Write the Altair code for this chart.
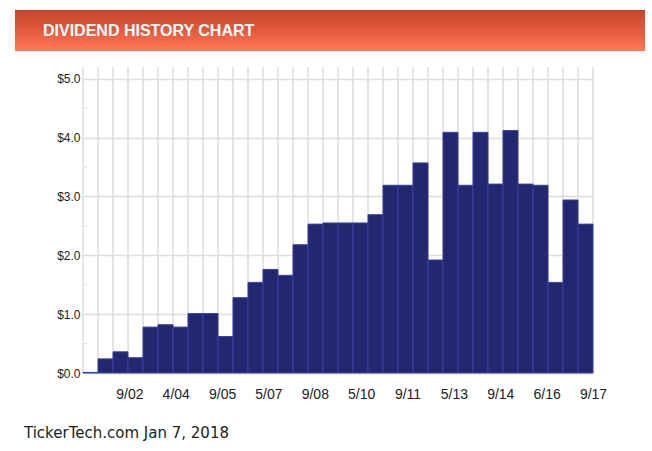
import altair as alt
import pandas as pd

# ---- data ----
dividends = [0.01, 0.24, 0.36, 0.26, 0.78, 0.82, 0.78, 1.01, 1.01, 0.62,
             1.28, 1.54, 1.76, 1.66, 2.18, 2.53, 2.55, 2.55, 2.55, 2.69,
             3.19, 3.19, 3.57, 1.92, 4.09, 3.19, 4.09, 3.21, 4.12, 3.21,
             3.19, 1.54, 2.94, 2.53]
x_labels = ["9/02", "4/04", "9/05", "5/07", "9/08", "5/10", "9/11",
            "5/13", "9/14", "6/16", "9/17"]
y_ticks = [0, 1, 2, 3, 4, 5]
y_minor = [0.5, 1.5, 2.5, 3.5, 4.5]
title_text = "DIVIDEND HISTORY CHART"
footer_text = "TickerTech.com  Jan 7, 2018"

n = len(dividends)
k = len(x_labels)
tick_pos = [n * (j + 1) / k for j in range(k)]
labels_js = "[" + ",".join("'" + s + "'" for s in x_labels) + "]"

bars_df = pd.DataFrame({"i": list(range(n)), "i2": list(range(1, n + 1)), "v": dividends})
grid_df = pd.DataFrame({"i": list(range(n + 1))})
minor_df = pd.DataFrame({"v": y_minor})
deco_df = pd.DataFrame({"t": [title_text]})
foot_df = pd.DataFrame({"t": [footer_text]})

W, H = 510, 306
YMAX = 5.2

x_scale = alt.Scale(domain=[0, n], nice=False, zero=False)
y_scale = alt.Scale(domain=[0, YMAX], nice=False)

x_axis = alt.Axis(values=tick_pos,
                  labelExpr=labels_js + "[round(datum.value * %d / %d) - 1]" % (k, n),
                  grid=False, ticks=False, domain=False, title=None,
                  labelFont="Liberation Sans", labelFontSize=14,
                  labelColor="#222222", labelPadding=14,
                  labelFlush=False, labelOverlap=False)
y_axis = alt.Axis(values=y_ticks,
                  labelExpr="'$' + format(datum.value, '.1f')",
                  grid=True, gridColor="#dddddd", gridWidth=1.5,
                  ticks=False, domain=False, title=None,
                  labelFont="Liberation Sans", labelFontSize=12,
                  labelColor="#222222", labelPadding=3)

vgrid = alt.Chart(grid_df).mark_rule(color="#dddddd", strokeWidth=1.5).encode(
    x=alt.X("i:Q", scale=x_scale, axis=x_axis),
)

minor = alt.Chart(minor_df).mark_rule(color="#dddddd", strokeWidth=1).encode(
    y=alt.Y("v:Q", scale=y_scale, axis=y_axis),
    x=alt.value(0),
    x2=alt.value(4),
)

bars = alt.Chart(bars_df).transform_calculate(base="0").mark_rect(
    fill="#23276f", stroke="#3b41a3", strokeWidth=1
).encode(
    x=alt.X("i:Q", scale=x_scale, axis=x_axis),
    x2="i2:Q",
    y=alt.Y("v:Q", scale=y_scale, axis=y_axis),
    y2="base:Q",
)

banner = alt.Chart(deco_df).mark_rect(
    color=alt.Gradient(
        gradient="linear",
        stops=[alt.GradientStop(color="#c7432a", offset=0),
               alt.GradientStop(color="#e35a3c", offset=0.5),
               alt.GradientStop(color="#ff7858", offset=1)],
        x1=0, x2=0, y1=0, y2=1,
    )
).encode(
    x=alt.value(-68), x2=alt.value(562),
    y=alt.value(-57), y2=alt.value(-16),
)

title = alt.Chart(deco_df).mark_text(
    align="left", baseline="middle", color="white",
    font="Liberation Sans", fontSize=16, fontWeight="bold",
).encode(x=alt.value(-40), y=alt.value(-36), text="t:N")

footer = alt.Chart(foot_df).mark_text(
    align="left", baseline="middle", color="#222222",
    font="DejaVu Sans", fontSize=15,
).encode(x=alt.value(-59), y=alt.value(366), text="t:N")

chart = alt.layer(vgrid, minor, bars, banner, title, footer).properties(
    width=W, height=H,
    padding={"left": 83, "top": 67, "right": 59, "bottom": 78},
    autosize=alt.AutoSizeParams(type="none"),
    background="white",
).configure_view(stroke=None)

chart.save("out.html", embed_options={"renderer": "svg", "actions": False})
